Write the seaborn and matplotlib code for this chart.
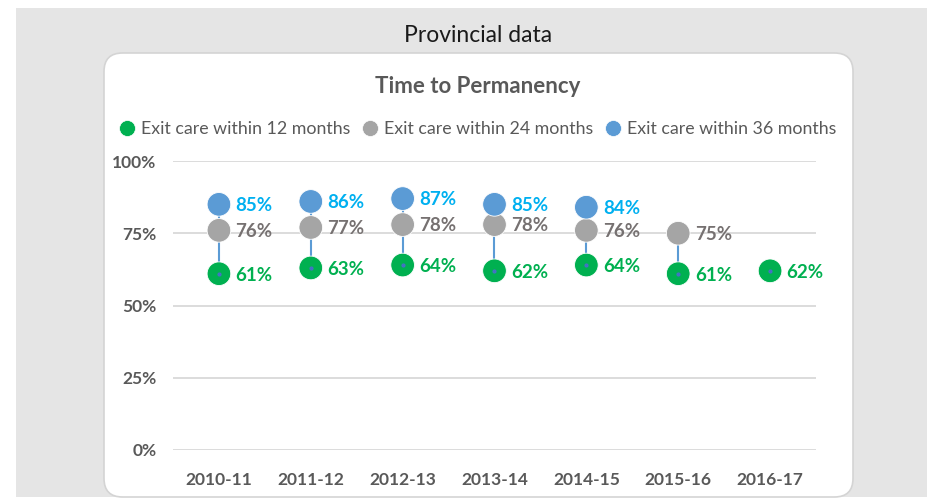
import matplotlib
matplotlib.use("Agg")
import matplotlib.pyplot as plt
from matplotlib.patches import Rectangle, FancyBboxPatch
from matplotlib.lines import Line2D
import numpy as np
import pandas as pd
import seaborn as sns

# data
years = ["2010-11", "2011-12", "2012-13", "2013-14", "2014-15", "2015-16", "2016-17"]
series = ["Exit care within 12 months", "Exit care within 24 months", "Exit care within 36 months"]
within_12 = [61, 63, 64, 62, 64, 61, 62]
within_24 = [76, 77, 78, 78, 76, 75, np.nan]
within_36 = [85, 86, 87, 85, 84, np.nan, np.nan]
yticks = [0, 25, 50, 75, 100]

colors = ["#00b050", "#a5a5a5", "#5b9bd5"]
label_colors = ["#00b050", "#767171", "#00b0f0"]
text_gray = "#595959"

df = pd.DataFrame({
    "year": years * 3,
    "series": [series[0]] * 7 + [series[1]] * 7 + [series[2]] * 7,
    "value": within_12 + within_24 + within_36,
}).dropna()

sns.set_theme(style="white")
plt.rcParams["font.family"] = ["Lato", "DejaVu Sans"]

W, H = 928, 500
fig = plt.figure(figsize=(W / 100, H / 100), dpi=100, facecolor="white")

# grey page + rounded white card
fig.patches.append(Rectangle((16 / W, 3 / H), 1 - 16 / W, 489 / H,
                             transform=fig.transFigure, facecolor="#e5e5e5",
                             edgecolor="none", zorder=0))
fig.patches.append(FancyBboxPatch((104 / W, 3 / H), 749 / W, 444 / H,
                                  boxstyle="round,pad=0,rounding_size=0.02",
                                  transform=fig.transFigure, facecolor="white",
                                  edgecolor="#d4d4d4", linewidth=1.2, zorder=1,
                                  mutation_aspect=W / H))

fig.text(478 / W, 1 - 36 / H, "Provincial data", ha="center", va="center",
         fontsize=16.5, color="#1a1a1a")
fig.text(478 / W, 1 - 87 / H, "Time to Permanency", ha="center", va="center",
         fontsize=16, fontweight="bold", color=text_gray)

ax = fig.add_axes([173 / W, 50 / H, 643 / W, 289 / H])
ax.set_facecolor("none")
ax.set_zorder(2)

# high-low lines
for i, y in enumerate(years):
    vals = [v for v in (within_12[i], within_24[i], within_36[i]) if not np.isnan(v)]
    if len(vals) > 1:
        ax.vlines(i, min(vals), max(vals), color="#5b9bd5", linewidth=1.5, zorder=2)

sns.scatterplot(data=df, x="year", y="value", hue="series", hue_order=series,
                palette=colors, s=290, edgecolor="white", linewidth=0.6,
                legend=False, ax=ax, zorder=3, clip_on=False)
# small line-end dot visible in the green markers
ax.scatter(range(len(years)), within_12, s=4, color="#4472c4", zorder=4)

# data labels
for vals, c in zip([within_12, within_24, within_36], label_colors):
    for i, v in enumerate(vals):
        if not np.isnan(v):
            ax.annotate(f"{v:.0f}%", (i, v), xytext=(12, -1), textcoords="offset points",
                        ha="left", va="center", fontsize=13.5, fontweight="bold", color=c)

ax.set_xlim(-0.5, len(years) - 0.5)
ax.set_ylim(0, 100)
ax.set_yticks(yticks)
ax.set_yticklabels([f"{t}%" for t in yticks])
ax.grid(axis="y", color="#d9d9d9", linewidth=1.3)
ax.set_axisbelow(True)
for s in ax.spines.values():
    s.set_visible(False)
ax.tick_params(axis="both", length=0, labelsize=12.5, labelcolor=text_gray)
ax.tick_params(axis="x", pad=16)
ax.tick_params(axis="y", pad=12)
for lab in ax.get_xticklabels() + ax.get_yticklabels():
    lab.set_fontweight("bold")
ax.set_xlabel("")
ax.set_ylabel("")

handles = [Line2D([], [], marker="o", linestyle="none", markersize=11.5,
                  markerfacecolor=c, markeredgecolor="white", markeredgewidth=0.5)
           for c in colors]
fig.legend(handles, series, ncol=3, loc="center", bbox_to_anchor=(477 / W, 1 - 129 / H),
           frameon=False, fontsize=12.8, labelcolor=text_gray, handletextpad=0.3,
           columnspacing=0.6, handlelength=1.0)

fig.savefig("out.png", dpi=100, facecolor="white")
